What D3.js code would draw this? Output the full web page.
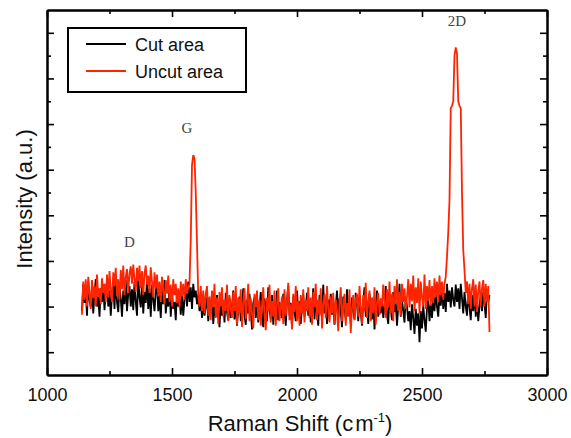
<!DOCTYPE html>
<html>
<head>
<meta charset="utf-8">
<script src="https://cdn.jsdelivr.net/npm/d3@7"></script>
<style>
  body { margin: 0; background: #fff; }
  svg { display: block; }
</style>
</head>
<body>
<div id="chart"></div>
<script>
// raman shift grid (cm-1), intensities (a.u.)
var shiftStart = 1140, shiftStep = 5;

var cutArea = [
  140, 200, 158, 185, 130, 205, 165, 148, 195, 135, 178, 210, 150, 172, 128, 190, 160, 198, 142, 182,
  205, 150, 185, 130, 175, 200, 145, 212, 160, 138, 192, 168, 128, 185, 155, 208, 140, 178, 195, 150,
  188, 142, 205, 160, 130, 215, 170, 148, 200, 135, 182, 158, 210, 145, 190, 128, 198, 165, 140, 185,
  200, 140, 175, 125, 190, 155, 208, 135, 168, 150, 195, 128, 180, 145, 160, 120, 185, 150, 170, 132,
  175, 130, 165, 195, 150, 205, 160, 192, 145, 200, 170, 185, 155, 178, 140, 168, 125, 158, 130, 150,
  170, 118, 160, 135, 182, 112, 150, 128, 175, 140, 105, 165, 130, 158, 115, 180, 138, 120, 168, 125,
  150, 185, 122, 160, 108, 145, 172, 118, 155, 190, 130, 110, 165, 135, 178, 142, 100, 158, 170, 125,
  162, 115, 148, 182, 130, 105, 168, 140, 118, 192, 145, 122, 175, 110, 155, 135, 185, 120, 160, 138,
  125, 178, 145, 108, 165, 195, 130, 158, 105, 172, 140, 118, 185, 135, 162, 112, 150, 175, 128, 148,
  180, 130, 160, 115, 148, 190, 122, 168, 138, 108, 175, 145, 125, 198, 135, 158, 112, 165, 140, 178,
  132, 162, 110, 150, 185, 125, 168, 140, 105, 172, 148, 120, 188, 130, 155, 112, 170, 142, 122, 180,
  155, 118, 170, 138, 108, 160, 192, 128, 150, 112, 178, 140, 122, 165, 100, 152, 185, 128, 160, 135,
  165, 125, 150, 195, 132, 112, 172, 145, 120, 182, 138, 160, 108, 150, 200, 128, 165, 140, 115, 172,
  150, 118, 140, 98, 155, 125, 90, 145, 108, 135, 72, 140, 102, 152, 120, 95, 148, 165, 118, 155,
  125, 170, 140, 185, 150, 128, 178, 152, 195, 145, 180, 138, 200, 160, 185, 148, 192, 165, 150, 198,
  160, 190, 145, 200, 168, 135, 182, 150, 130, 188, 148, 120, 175, 140, 185, 128, 165, 118, 150, 178,
  140, 182, 155, 125, 188, 160, 175
];

var uncutArea = [
  132, 205, 165, 210, 150, 215, 178, 145, 208, 168, 195, 150, 220, 172, 190, 155, 212, 180, 200, 160,
  220, 170, 228, 185, 160, 225, 195, 235, 172, 210, 165, 230, 188, 240, 175, 215, 232, 180, 222, 238,
  200, 242, 210, 182, 235, 205, 240, 190, 228, 175, 222, 240, 198, 218, 180, 236, 205, 170, 225, 190,
  220, 172, 205, 160, 215, 185, 155, 208, 178, 218, 160, 198, 150, 210, 175, 200, 158, 190, 148, 205,
  172, 200, 165, 210, 178, 192, 200, 296, 460, 482, 475, 400, 290, 175, 150, 195, 140, 185, 135, 178,
  195, 130, 172, 120, 185, 148, 200, 125, 170, 112, 182, 150, 192, 128, 165, 140, 198, 118, 175, 145,
  125, 182, 140, 195, 110, 170, 135, 188, 105, 162, 190, 122, 158, 200, 118, 168, 135, 102, 178, 148,
  185, 120, 165, 108, 152, 192, 130, 98, 170, 140, 198, 115, 162, 128, 185, 108, 155, 190, 118, 148,
  172, 112, 188, 130, 160, 202, 120, 155, 100, 178, 138, 195, 118, 162, 108, 175, 135, 188, 115, 165,
  140, 192, 125, 170, 110, 182, 148, 200, 120, 165, 132, 190, 102, 158, 178, 125, 195, 145, 115, 172,
  135, 180, 112, 165, 140, 96, 160, 192, 118, 150, 178, 108, 158, 128, 188, 92, 148, 175, 120, 165,
  178, 128, 195, 145, 112, 175, 140, 202, 125, 162, 185, 118, 170, 135, 192, 110, 160, 180, 132, 168,
  150, 198, 162, 125, 188, 148, 205, 135, 178, 118, 195, 155, 210, 140, 182, 130, 200, 160, 190, 145,
  172, 210, 148, 200, 162, 218, 140, 192, 158, 212, 135, 205, 170, 150, 220, 145, 195, 162, 208, 152,
  195, 158, 212, 170, 205, 160, 218, 175, 205, 165, 200, 215, 260, 313, 383, 585, 590, 600, 700, 718,
  705, 600, 590, 585, 400, 274, 230, 180, 205, 155, 200, 145, 190, 210, 150, 198, 138, 185, 205, 150,
  190, 208, 150, 200, 160, 195, 94
];

var xMajor = [1000, 1500, 2000, 2500, 3000];
var xMinor = [1250, 1750, 2250, 2750];
var yMajor = [50, 150, 250, 350, 450, 550, 650, 750];
var yMinor = [100, 200, 300, 400, 500, 600, 700];

var peakNames = ["D", "G", "2D"];
var peakShift = [1330, 1560, 2640];
var peakLevel = [280, 530, 765];

var seriesNames = ["Cut area", "Uncut area"];
var seriesColors = ["#000000", "#ff2400"];

var margin = {top: 10, right: 24, bottom: 63, left: 47},
    width = 571 - margin.left - margin.right,
    height = 438 - margin.top - margin.bottom;

var svg = d3.select("#chart")
  .append("svg")
    .attr("width", 571)
    .attr("height", 438)
  .append("g")
    .attr("transform", "translate(" + margin.left + "," + margin.top + ")");

var x = d3.scaleLinear().domain([1000, 3000]).range([0, width]);
var y = d3.scaleLinear().domain([0, 800]).range([height, 0]);

function styleAxis(g) {
  g.select(".domain").attr("stroke-width", 2);
  g.selectAll(".tick line").attr("stroke-width", 1.6);
  g.selectAll("text")
    .style("font-family", "Arial, 'Liberation Sans', sans-serif")
    .style("font-size", "18px")
    .attr("fill", "#111");
}

// bottom axis with labels
svg.append("g")
  .attr("transform", "translate(0," + height + ")")
  .call(d3.axisBottom(x).tickValues(xMajor).tickFormat(d3.format("d"))
    .tickSize(-7).tickSizeOuter(0).tickPadding(13))
  .call(styleAxis);
svg.append("g")
  .attr("transform", "translate(0," + height + ")")
  .call(d3.axisBottom(x).tickValues(xMinor).tickFormat("").tickSize(-4).tickSizeOuter(0))
  .call(styleAxis);

// top axis, no labels
svg.append("g")
  .call(d3.axisTop(x).tickValues(xMajor).tickFormat("").tickSize(-7).tickSizeOuter(0))
  .call(styleAxis);
svg.append("g")
  .call(d3.axisTop(x).tickValues(xMinor).tickFormat("").tickSize(-4).tickSizeOuter(0))
  .call(styleAxis);

// left + right axes, no labels
svg.append("g")
  .call(d3.axisLeft(y).tickValues(yMajor).tickFormat("").tickSize(-7).tickSizeOuter(0))
  .call(styleAxis);
svg.append("g")
  .call(d3.axisLeft(y).tickValues(yMinor).tickFormat("").tickSize(-4).tickSizeOuter(0))
  .call(styleAxis);
svg.append("g")
  .attr("transform", "translate(" + width + ",0)")
  .call(d3.axisRight(y).tickValues(yMajor).tickFormat("").tickSize(-7).tickSizeOuter(0))
  .call(styleAxis);
svg.append("g")
  .attr("transform", "translate(" + width + ",0)")
  .call(d3.axisRight(y).tickValues(yMinor).tickFormat("").tickSize(-4).tickSizeOuter(0))
  .call(styleAxis);

// spectra
var line = d3.line()
  .x(function(d, i) { return x(shiftStart + i * shiftStep); })
  .y(function(d) { return y(d); });

[cutArea, uncutArea].forEach(function(s, k) {
  svg.append("path")
    .datum(s)
    .attr("fill", "none")
    .attr("stroke", seriesColors[k])
    .attr("stroke-width", 1.8)
    .attr("stroke-linejoin", "bevel")
    .attr("d", line);
});

// peak labels
svg.selectAll(".peak")
  .data(peakNames)
  .enter()
  .append("text")
    .attr("x", function(d, i) { return x(peakShift[i]); })
    .attr("y", function(d, i) { return y(peakLevel[i]); })
    .attr("text-anchor", "middle")
    .style("font-family", "'Liberation Serif', 'DejaVu Serif', serif")
    .style("font-size", "15px")
    .attr("fill", "#444")
    .text(function(d) { return d; });

// legend
var legend = svg.append("g").attr("transform", "translate(21,18)");
legend.append("rect")
  .attr("width", 178).attr("height", 64)
  .attr("fill", "#fff").attr("stroke", "#000").attr("stroke-width", 2);
seriesNames.forEach(function(n, i) {
  var row = legend.append("g").attr("transform", "translate(0," + (16 + i * 27) + ")");
  row.append("line")
    .attr("x1", 18).attr("x2", 58)
    .attr("stroke", seriesColors[i]).attr("stroke-width", 2);
  row.append("text")
    .attr("x", 67).attr("y", 6.5)
    .style("font-family", "Arial, 'Liberation Sans', sans-serif")
    .style("font-size", "18px")
    .attr("fill", "#111")
    .text(n);
});

// axis titles
var xt = svg.append("text")
  .attr("x", width / 2 + 3)
  .attr("y", height + 56)
  .attr("text-anchor", "middle")
  .style("font-family", "Arial, 'Liberation Sans', sans-serif")
  .style("font-size", "22px")
  .attr("fill", "#111");
xt.append("tspan").text("Raman Shift (c");
xt.append("tspan").attr("dx", 2).text("m");
xt.append("tspan").attr("dy", -9).style("font-size", "13px").text("-1");
xt.append("tspan").attr("dy", 9).text(")");

svg.append("text")
  .attr("transform", "rotate(-90)")
  .attr("x", -(199 - margin.top))
  .attr("y", 32 - margin.left)
  .attr("text-anchor", "middle")
  .style("font-family", "Arial, 'Liberation Sans', sans-serif")
  .style("font-size", "22px")
  .attr("fill", "#111")
  .text("Intensity (a.u.)");
</script>
</body>
</html>
